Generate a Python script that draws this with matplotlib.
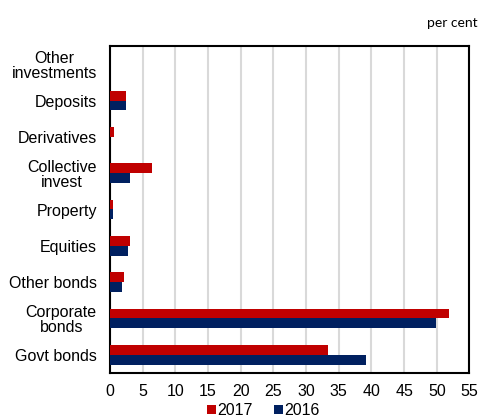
import numpy as np
import matplotlib
matplotlib.use('Agg')
import matplotlib.pyplot as plt

# categories from bottom to top
categories = ['Govt bonds', 'Corporate\nbonds', 'Other bonds', 'Equities', 'Property',
              'Collective\ninvest', 'Derivatives', 'Deposits', 'Other\ninvestments']
vals_2017 = [33.3, 51.8, 2.1, 3.1, 0.5, 6.5, 0.6, 2.4, 0.0]
vals_2016 = [39.2, 49.9, 1.8, 2.8, 0.5, 3.1, 0.0, 2.4, 0.0]
x_ticks = list(range(0, 60, 5))

red = '#C00000'
navy = '#002060'

plt.rcParams['font.family'] = ['Liberation Sans', 'DejaVu Sans']

fig = plt.figure(figsize=(4.85, 4.19), dpi=100)
ax = fig.add_axes([0.2268, 0.1098, 0.7412, 0.7804])

y = np.arange(len(categories))
h = 0.275
ax.barh(y + h / 2, vals_2017, height=h, color=red, label='2017', zorder=3)
ax.barh(y - h / 2, vals_2016, height=h, color=navy, label='2016', zorder=3)

ax.set_xlim(0, 55)
ax.set_ylim(-0.5, len(categories) - 0.5)
ax.set_xticks(x_ticks)
ax.set_yticks(y)
ax.set_yticklabels(categories, ha='right', multialignment='center', linespacing=1.0)
ax.tick_params(axis='y', length=0, pad=9.5, labelsize=11.5)
ax.tick_params(axis='x', length=0, pad=8, labelsize=11.5)

ax.grid(axis='x', color='#D9D9D9', linewidth=1.5, zorder=0)
for s in ax.spines.values():
    s.set_color('black')
    s.set_linewidth(1.5)

fig.text(0.985, 0.945, 'per cent', ha='right', va='center', fontsize=10, family=['Lato', 'DejaVu Sans'])

fig.legend(loc='center', bbox_to_anchor=(0.543, 0.02), ncol=2, frameon=False,
           fontsize=11.5, handlelength=0.55, handleheight=0.55, handletextpad=0.1,
           columnspacing=1.35)

fig.savefig('out.png', dpi=100)
